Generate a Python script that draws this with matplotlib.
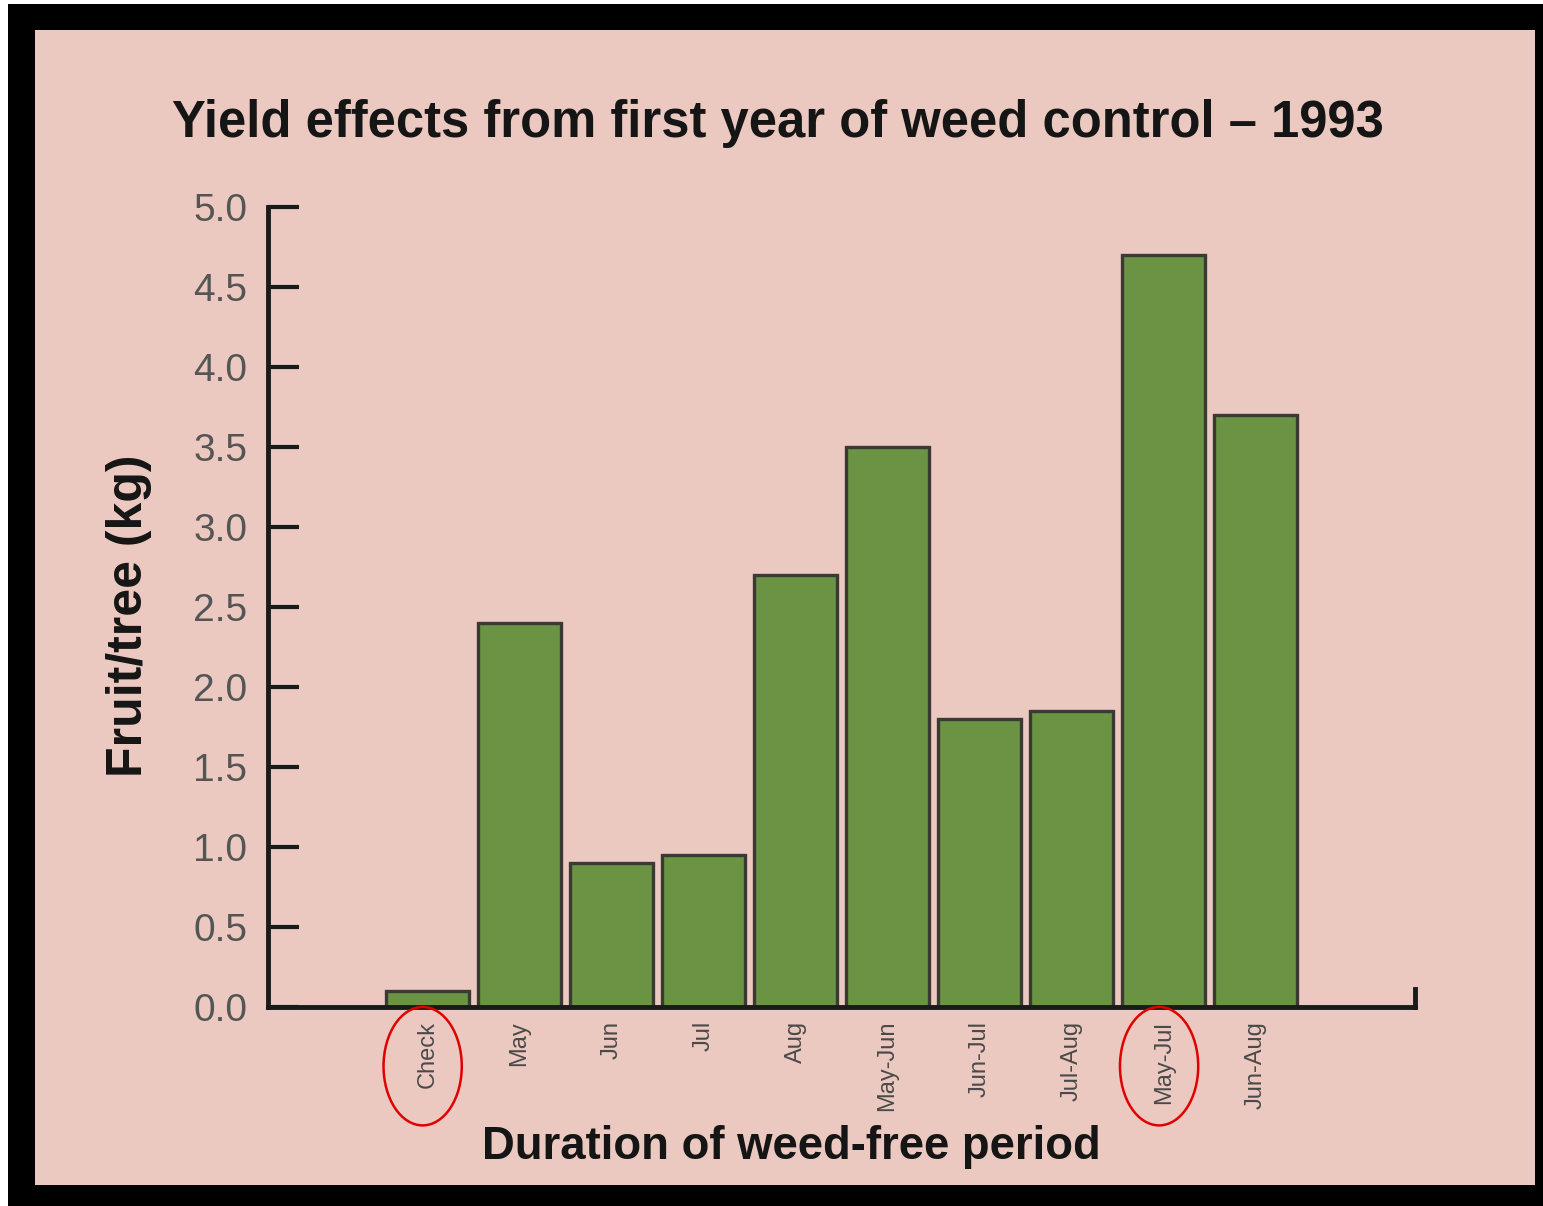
import matplotlib
matplotlib.use("Agg")
import matplotlib.pyplot as plt
from matplotlib.patches import Rectangle, Ellipse

categories = ["Check", "May", "Jun", "Jul", "Aug", "May-Jun", "Jun-Jul", "Jul-Aug", "May-Jul", "Jun-Aug"]
values = [0.1, 2.4, 0.9, 0.95, 2.7, 3.5, 1.8, 1.85, 4.7, 3.7]
yticks = [0.0, 0.5, 1.0, 1.5, 2.0, 2.5, 3.0, 3.5, 4.0, 4.5, 5.0]
highlighted = ["Check", "May-Jul"]

W, H = 1543, 1206
fig = plt.figure(figsize=(W / 100, H / 100), dpi=100)
fig.patch.set_facecolor("white")

bg = "#EBC9C0"
# frame
fig.add_artist(Rectangle((8 / W, 0), 1 - 8 / W, 1 - 4 / H, transform=fig.transFigure,
                         facecolor="black", edgecolor="none", zorder=-3))
fig.add_artist(Rectangle((35 / W, 1 - 1185 / H), (1535 - 35) / W, (1185 - 30) / H,
                         transform=fig.transFigure, facecolor=bg, edgecolor="none", zorder=-2))

famb = ["Liberation Sans", "DejaVu Sans"]

ax_l, ax_r = 268, 1415
ax_t, ax_b = 207, 1007
ax = fig.add_axes([ax_l / W, 1 - ax_b / H, (ax_r - ax_l) / W, (ax_b - ax_t) / H])
ax.set_facecolor("none")

x = list(range(len(categories)))
ax.bar(x, values, width=0.9, color="#6A9444", edgecolor="#3A3A32", linewidth=2.4, zorder=2)

ax.set_xlim(-1.73, 10.73)
ax.set_ylim(0, 5.0)
ax.set_yticks(yticks)
ax.set_yticklabels([f"{v:.1f}" for v in yticks], fontsize=28, color="#555555", family=famb)
ax.set_xticks(x)
ax.set_xticklabels(categories, rotation=90, fontsize=17, color="#4a4a4a", family=famb,
                   va="top", ha="center")

for s in ["top", "right"]:
    ax.spines[s].set_visible(False)
for s in ["left", "bottom"]:
    ax.spines[s].set_linewidth(3.5)
    ax.spines[s].set_color("#1a1a1a")
ax.tick_params(axis="y", direction="in", length=22, width=3, color="#1a1a1a", pad=15)
ax.tick_params(axis="x", length=0, pad=10)

# right end tick of the x axis
ax.axvline(ax.get_xlim()[1], ymin=0, ymax=0.022, color="#1a1a1a", linewidth=3.5, clip_on=False)

fig.text(778 / W, 1 - 123 / H, "Yield effects from first year of weed control \u2013 1993",
         ha="center", va="center", fontsize=36.5, fontweight="bold", color="#151515", family=famb)
fig.text(129 / W, 1 - 616 / H, "Fruit/tree (kg)", rotation=90, ha="center", va="center",
         fontsize=36, fontweight="bold", color="#151515", family=famb)
fig.text(791 / W, 1 - 1147 / H, "Duration of weed-free period", ha="center", va="center",
         fontsize=32.8, fontweight="bold", color="#151515", family=famb)

# red ellipses around highlighted labels
for name in highlighted:
    i = categories.index(name)
    e = Ellipse((i - 0.05, -0.37), width=0.85, height=0.74, facecolor="none",
                edgecolor="#E00000", linewidth=1.8, clip_on=False, zorder=5)
    ax.add_patch(e)

fig.savefig("out.png", dpi=100, facecolor=fig.get_facecolor())
